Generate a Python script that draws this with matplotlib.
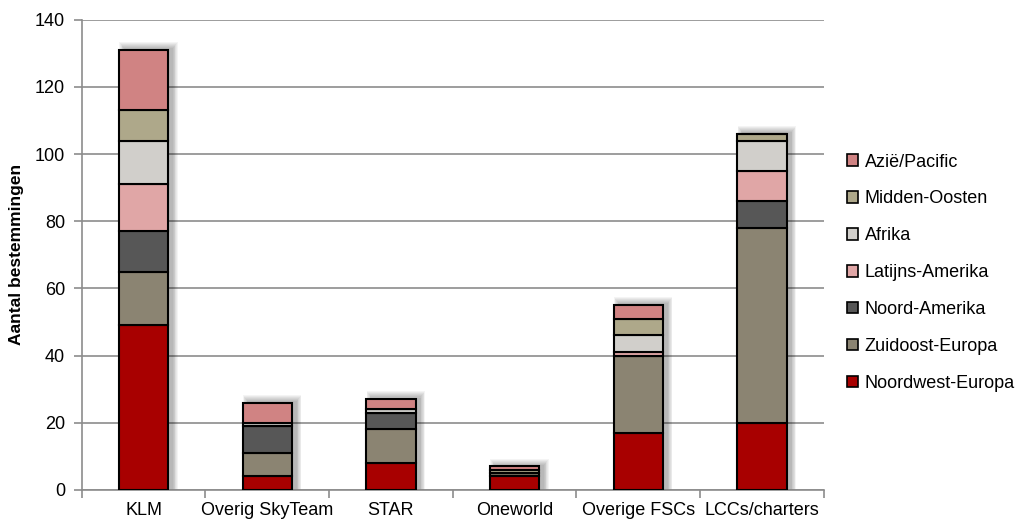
import numpy as np
from matplotlib import pyplot as plt
from matplotlib.patches import Patch

plt.rcParams['font.family'] = ['Liberation Sans', 'DejaVu Sans']

categories = ['KLM', 'Overig SkyTeam', 'STAR', 'Oneworld', 'Overige FSCs', 'LCCs/charters']

# stacked series, bottom to top
series_names = ['Noordwest-Europa', 'Zuidoost-Europa', 'Noord-Amerika', 'Latijns-Amerika',
                'Afrika', 'Midden-Oosten', 'Azië/Pacific']
noordwest_europa = [49, 4, 8, 4, 17, 20]
zuidoost_europa = [16, 7, 10, 1, 23, 58]
noord_amerika = [12, 8, 5, 0, 0, 8]
latijns_amerika = [14, 0, 0, 0, 1, 9]
afrika = [13, 1, 1, 0, 5, 9]
midden_oosten = [9, 0, 0, 1, 5, 2]
azie_pacific = [18, 6, 3, 1, 4, 0]

colors = ['#a80000', '#8b8472', '#575757', '#e0a6a6', '#d1cfcb', '#aea88a', '#d08383']

data = [noordwest_europa, zuidoost_europa, noord_amerika, latijns_amerika,
        afrika, midden_oosten, azie_pacific]

x = np.arange(len(categories))
width = 0.4
totals = np.sum(data, axis=0)

fig = plt.figure(figsize=(10.22, 5.2), dpi=100)
ax = fig.add_axes([0.080, 0.058, 0.726, 0.904])

# soft shadow behind the stacks
for k in range(7):
    ax.bar(x + 0.04, totals + 0.5 + 0.3 * k, width + 0.012 * k, color='black',
           alpha=0.045, linewidth=0, zorder=2)

bottom = np.zeros(len(categories))
for name, vals, col in zip(series_names, data, colors):
    ax.bar(x, vals, width, bottom=bottom, color=col, edgecolor='black',
           linewidth=1.5, zorder=3, label=name)
    bottom += np.array(vals)

ax.set_xlim(-0.5, len(categories) - 0.5)
ax.set_ylim(0, 140)
ax.set_yticks(np.arange(0, 141, 20))
ax.set_xticks(x)
ax.set_xticklabels(categories, fontsize=13)
ax.set_xticks(np.arange(-0.5, len(categories)), minor=True)
ax.tick_params(axis='x', which='major', length=0, pad=9)
ax.tick_params(axis='x', which='minor', length=6, color='#8c8c8c', width=1.2)
ax.tick_params(axis='y', length=6, color='#8c8c8c', width=1.2, labelsize=13, pad=6)

ax.yaxis.grid(True, color='#8c8c8c', linewidth=1.2, zorder=0)
ax.set_axisbelow(True)
for s in ['top', 'right']:
    ax.spines[s].set_visible(False)
for s in ['left', 'bottom']:
    ax.spines[s].set_color('#8c8c8c')
    ax.spines[s].set_linewidth(1.2)

ax.set_ylabel('Aantal bestemmingen', fontsize=12.5, fontweight='bold', labelpad=8)

handles = [Patch(facecolor=c, edgecolor='black', linewidth=1.2) for c in colors]
ax.legend(handles[::-1], series_names[::-1], loc='center left',
          bbox_to_anchor=(1.01, 0.462), frameon=False, fontsize=13,
          handlelength=0.6, handleheight=0.6, handletextpad=0.35, labelspacing=1.1)

fig.savefig('out.png', dpi=100)
